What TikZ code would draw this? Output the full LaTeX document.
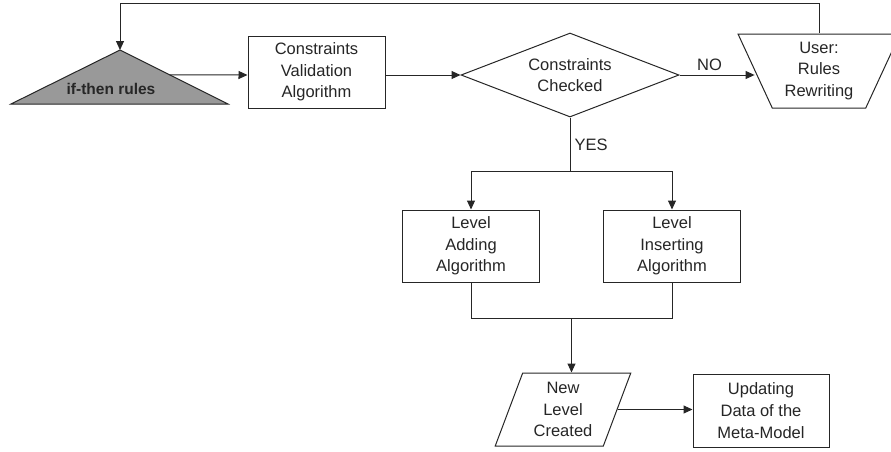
\documentclass[tikz,border=0pt]{standalone}
\usepackage{fontspec}
\setmainfont{Liberation Sans}
\usepackage{tikz}
\usetikzlibrary{positioning,arrows.meta,shapes.geometric,calc}

\begin{document}
\begin{tikzpicture}[
  x=1pt, y=-1pt,
  every node/.style={font=\fontsize{16.5}{21.7}\selectfont, text=black!85},
  proc/.style={rectangle, draw=black!85, fill=white, line width=1pt,
             align=center, inner sep=0pt, minimum width=137pt, minimum height=72pt},
  test/.style={diamond, draw=black!85, line width=1pt, align=center,
             inner sep=0pt, aspect=2.6, minimum width=218pt, minimum height=84pt},
  manual/.style={trapezium, shape border rotate=180, trapezium angle=66.6,
             trapezium stretches=true, draw=black!85, line width=1pt,
             align=center, inner sep=0pt, minimum width=162pt, minimum height=74pt},
  data/.style={trapezium, trapezium left angle=70, trapezium right angle=110,
             trapezium stretches=true, draw=black!85, line width=1pt,
             align=center, inner sep=0pt, minimum width=136pt, minimum height=73pt},
  lbl/.style={font=\fontsize{16.5}{19}\selectfont, inner sep=1pt},
  arr/.style={-{Triangle[length=9pt,width=8pt]}, line width=1pt, black!85},
  line/.style={line width=1pt, black!85},
]
\useasboundingbox (0,0) rectangle (891,451);

% --- start: rules triangle ---
\filldraw[fill=black!40, draw=black!85, line width=1pt]
  (11,104) coordinate (rules-bl) -- (120,50) coordinate (rules-top)
  -- (228,104) coordinate (rules-br) -- cycle;
\node[font=\fontsize{15.5}{18}\bfseries] (rules) at (111,89) {if-then rules};

% --- validation ---
\node[proc] (valid) at (316.5,72) {Constraints\\ Validation\\ Algorithm};
\node[test] (check) at (570,75) {Constraints\\ Checked};
\node[manual] (user) at (819,71) {User:\\ Rules\\ Rewriting};

% --- levels ---
\node[proc] (add) at (471,246) {Level\\ Adding\\ Algorithm};
\node[proc] (ins) at (672,246) {Level\\ Inserting\\ Algorithm};

% --- result ---
\node[data] (newlvl) at (563,409.5) {New\\ Level\\ Created};
\node[proc, minimum height=73pt, minimum width=136pt] (update) at (761,410.5)
  {Updating\\ Data of the\\ Meta-Model};

% --- arrows ---
\draw[arr] ($(rules-top)!0.46!(rules-br)$) -- (valid.west |- check.west);
\draw[arr] (valid.east |- check.west) -- (check.west);
\draw[arr] (check.east) -- (user.west |- check.east)
  node[lbl, pos=0.4, above=3pt] (no) {NO};
\draw[arr] (user.north) -- ++(0,-30) -| (rules-top);
\draw[line] (check.south) -- ++(0,54) coordinate (split)
  node[lbl, pos=0.5, right=3pt] (yes) {YES};
\draw[arr] (split) -| (add.north);
\draw[arr] (split) -| (ins.north);
\draw[line] (add.south) -- ++(0,36) -| (ins.south);
\coordinate (merge) at ($(add.south)!0.5!(ins.south)+(0,36)$);
\draw[arr] (merge) -- (merge |- newlvl.north);
\draw[arr] (newlvl.east) -- (update.west |- newlvl.east);

\end{tikzpicture}
\end{document}
